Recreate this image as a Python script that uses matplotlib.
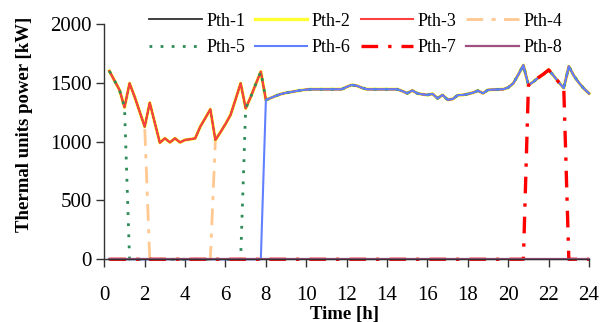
import matplotlib
matplotlib.use('Agg')
import matplotlib.pyplot as plt
import numpy as np

plt.rcParams['font.family'] = ['Liberation Serif', 'DejaVu Serif']

# quarter-hour steps over the day
time_h = np.arange(0.25, 24.01, 0.25)

# output of a committed unit [kW] at each step
p_on = [1600, 1520, 1440, 1292, 1496, 1382, 1255, 1127, 1331, 1160,
        991, 1028, 994, 1028, 994, 1015, 1020, 1028, 1127, 1200,
        1275, 1014, 1080, 1150, 1227, 1360, 1496, 1283, 1380, 1490,
        1595, 1354, 1372, 1390, 1405, 1415, 1422, 1430, 1437, 1442,
        1445, 1445, 1445, 1445, 1445, 1445, 1445, 1465, 1482, 1475,
        1458, 1445, 1445, 1445, 1445, 1445, 1445, 1445, 1430, 1411,
        1435, 1410, 1402, 1397, 1406, 1368, 1397, 1356, 1362, 1395,
        1397, 1405, 1416, 1433, 1411, 1440, 1442, 1444, 1445, 1460,
        1496, 1570, 1650, 1480, 1510, 1545, 1575, 1610, 1560, 1505,
        1455, 1640, 1560, 1500, 1450, 1410]

units = ['Pth-1', 'Pth-2', 'Pth-3', 'Pth-4', 'Pth-5', 'Pth-6', 'Pth-7', 'Pth-8']

# hours (first, last) during which each unit is switched off
off_windows = {
    'Pth-1': [],
    'Pth-2': [],
    'Pth-3': [],
    'Pth-4': [(2.25, 5.25)],
    'Pth-5': [(1.25, 6.75)],
    'Pth-6': [(0.0, 7.75)],
    'Pth-7': [(0.0, 20.75), (23.0, 24.0)],
    'Pth-8': [(0.0, 24.0)],
}

styles = {
    'Pth-1': dict(color='#303030', lw=1.3, ls='-'),
    'Pth-2': dict(color='#ffff33', lw=2.4, ls='-', zorder=1.8),
    'Pth-3': dict(color='#ff4040', lw=1.5, ls='-'),
    'Pth-4': dict(color='#ffc890', lw=2.0, ls=(0, (6, 3, 1.5, 3)), zorder=1.5),
    'Pth-5': dict(color='#2e8b57', lw=2.0, ls=(0, (1, 3))),
    'Pth-6': dict(color='#6080ff', lw=1.5, ls='-'),
    'Pth-7': dict(color='#ff0000', lw=2.4, ls=(0, (5, 3, 1, 3))),
    'Pth-8': dict(color='#a05080', lw=1.6, ls='-'),
}

fig = plt.figure(figsize=(6.04, 3.22), dpi=100)
ax = fig.add_axes([0.1727, 0.1947, 0.8025, 0.7308])

p = np.array(p_on, dtype=float)
lines = {}
for u in units:
    vals = p.copy()
    for a, b in off_windows[u]:
        vals[(time_h >= a - 1e-9) & (time_h <= b + 1e-9)] = 0
    ln, = ax.plot(time_h, vals, label=u, clip_on=False, **styles[u])
    lines[u] = ln

ax.set_xlim(0, 24)
ax.set_ylim(0, 2000)
ax.set_xticks(range(0, 25, 2))
ax.set_yticks(range(0, 2001, 500))
ax.spines['top'].set_visible(False)
ax.spines['right'].set_visible(False)
for s in ['left', 'bottom']:
    ax.spines[s].set_linewidth(1.0)
    ax.spines[s].set_color('#333333')
ax.tick_params(direction='out', length=6, width=1, labelsize=15, color='#333333')
ax.tick_params(axis='x', pad=13)
ax.tick_params(axis='y', pad=3)

ax.set_xlabel('Time [h]', fontsize=13.5, fontweight='bold')
ax.xaxis.set_label_coords(0.495, -0.2)
ax.set_ylabel('Thermal units power [kW]', fontsize=13.5, fontweight='bold')
ax.yaxis.set_label_coords(-0.148, 0.575)

# legend filled column by column, so interleave to read row-wise
order = ['Pth-1', 'Pth-5', 'Pth-2', 'Pth-6', 'Pth-3', 'Pth-7', 'Pth-4', 'Pth-8']
fig.legend(handles=[lines[u] for u in order], loc='center',
           bbox_to_anchor=(0.589, 1 - 34.5 / 322),
           ncol=4, frameon=False, fontsize=13, handlelength=2.9,
           handletextpad=0.25, columnspacing=0.55, labelspacing=0.55,
           borderpad=0)

fig.savefig('out.png', dpi=100)
